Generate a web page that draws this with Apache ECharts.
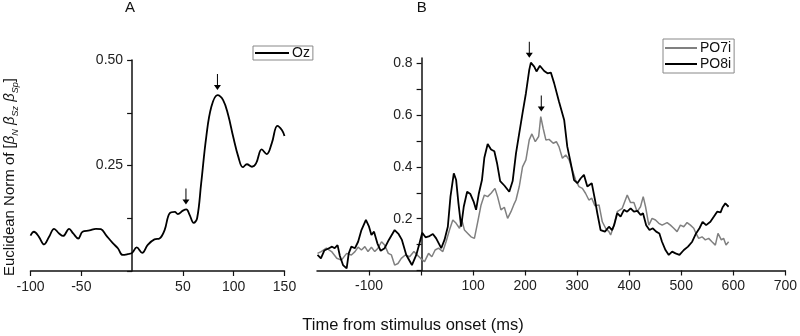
<!DOCTYPE html>
<html>
<head>
<meta charset="utf-8">
<script src="https://cdn.jsdelivr.net/npm/echarts@6/dist/echarts.min.js"></script>
<style>
  html, body { margin: 0; padding: 0; background: #fff; }
  #chart { width: 800px; height: 336px; }
</style>
</head>
<body>
<div id="chart"></div>
<script>
// panel A: Oz, [time ms, norm]
const ozData = [
  [-100, 0.084], [-96.6, 0.093], [-91.7, 0.081], [-86.7, 0.063], [-81.7, 0.081],
  [-76.8, 0.100], [-71.9, 0.089], [-67.9, 0.083], [-62, 0.100], [-58, 0.089],
  [-53, 0.077], [-48.8, 0.093], [-42, 0.096], [-35.6, 0.100], [-30.7, 0.099],
  [-25.7, 0.085], [-19, 0.066], [-14, 0.054], [-9.3, 0.038], [-4.3, 0.040],
  [0, 0.043], [4.5, 0.056], [10, 0.043], [15.4, 0.062], [22, 0.075],
  [27, 0.077], [32, 0.097], [37, 0.137], [42, 0.140], [45, 0.135],
  [50, 0.143], [53.4, 0.146], [56.6, 0.133], [60.6, 0.114], [64, 0.125],
  [68, 0.208], [73, 0.318], [78, 0.389], [84, 0.417], [89.6, 0.405],
  [94.5, 0.370], [99.5, 0.318], [104.5, 0.271], [109, 0.246], [113, 0.253],
  [118, 0.247], [122, 0.255], [127.6, 0.288], [132.5, 0.277], [137.5, 0.303],
  [143, 0.344], [147.4, 0.334], [150, 0.320]
];

// panel B: PO7i (grey)
const po7iData = [
  [-199, 0.066], [-192, 0.073], [-182, 0.086], [-172, 0.073], [-162, 0.047],
  [-153, 0.040], [-143, 0.066], [-134, 0.060], [-127, 0.073], [-121, 0.090],
  [-114.6, 0.079], [-108, 0.092], [-102, 0.073], [-95.4, 0.090], [-89, 0.073],
  [-82.8, 0.086], [-76, 0.111], [-70, 0.098], [-63, 0.066], [-57, 0.060],
  [-50.8, 0.021], [-44.4, 0.027], [-38, 0.047], [-30.3, 0.060], [-22, 0.053],
  [-13.7, 0.073], [-7.4, 0.060], [-1, 0.047], [6.7, 0.034], [14.4, 0.066],
  [20.7, 0.053], [27, 0.079], [33.5, 0.086], [41.8, 0.073], [48, 0.111],
  [54.6, 0.156], [61, 0.195], [67.4, 0.182], [73.8, 0.163], [78.3, 0.195],
  [83.4, 0.156], [89.8, 0.143], [96, 0.130], [102.5, 0.124], [108.9, 0.188],
  [115.3, 0.253], [121.6, 0.291], [128, 0.285], [134.5, 0.298], [142, 0.317],
  [147, 0.285], [153.5, 0.234], [160, 0.244], [166.3, 0.201], [172.8, 0.227],
  [178, 0.253], [182.4, 0.272], [188.7, 0.324], [195, 0.400], [201.5, 0.427],
  [207.9, 0.504], [213, 0.527], [219.5, 0.497], [226, 0.517], [230, 0.594],
  [234.6, 0.549], [239.8, 0.504], [246, 0.506], [254, 0.491], [260, 0.497],
  [265, 0.478], [271.6, 0.433], [278, 0.446], [284.4, 0.427], [290.8, 0.388],
  [297, 0.349], [303.5, 0.324], [310, 0.317], [316, 0.298], [322.5, 0.272],
  [328, 0.279], [334, 0.250], [342, 0.253], [348.3, 0.188], [354.7, 0.163],
  [361, 0.150], [364.3, 0.137], [370.7, 0.175], [377, 0.227], [380.3, 0.221],
  [386.6, 0.240], [396.2, 0.291], [402.6, 0.262], [409, 0.262], [415.3, 0.227],
  [421.7, 0.246], [426.9, 0.285], [431.4, 0.246], [437.7, 0.175], [444, 0.201],
  [450.5, 0.195], [456.9, 0.182], [463.3, 0.175], [472.8, 0.185], [479.2, 0.175],
  [485.6, 0.163], [492, 0.150], [498.4, 0.175], [504.8, 0.169], [511.2, 0.185],
  [517.6, 0.175], [524, 0.163], [528.4, 0.143], [533.5, 0.124], [539.9, 0.130],
  [546.3, 0.118], [552.7, 0.124], [559, 0.111], [565.5, 0.098], [570.6, 0.143],
  [577, 0.118], [581.4, 0.124], [586, 0.098], [591, 0.111]
];

// panel B: PO8i (black)
const po8iData = [
  [-199, 0.060], [-192.5, 0.047], [-186, 0.077], [-177, 0.086], [-171, 0.092],
  [-166, 0.086], [-160.5, 0.098], [-156, 0.056], [-150, 0.021], [-143, 0.008],
  [-139, 0.066], [-134, 0.092], [-127, 0.086], [-121, 0.111], [-114.6, 0.156],
  [-106, 0.195], [-100, 0.169], [-95.4, 0.137], [-90.4, 0.150], [-84, 0.105],
  [-77.6, 0.076], [-70, 0.086], [-62, 0.118], [-50.8, 0.156], [-43, 0.140],
  [-36.8, 0.118], [-28.4, 0.060], [-17.6, 0.021], [-9.2, 0.060], [-3, 0.105],
  [2.2, 0.146], [8.6, 0.128], [16.3, 0.133], [22.7, 0.141], [29, 0.124],
  [38.7, 0.086], [45, 0.118], [51.4, 0.169], [56.5, 0.285], [62.9, 0.375],
  [67.4, 0.349], [71.8, 0.260], [77, 0.169], [82, 0.246], [88.5, 0.304],
  [94.8, 0.295], [101, 0.266], [105.7, 0.234], [110.8, 0.295], [117, 0.349],
  [121.6, 0.435], [128, 0.488], [134.5, 0.467], [140.8, 0.460], [146, 0.414],
  [152, 0.345], [160, 0.328], [169.5, 0.304], [176, 0.345], [182.4, 0.452],
  [188.7, 0.530], [195, 0.607], [201.5, 0.684], [207.9, 0.774], [211, 0.802],
  [217.4, 0.787], [221.8, 0.768], [228.3, 0.790], [236.6, 0.770], [243, 0.761],
  [249.4, 0.764], [255.7, 0.723], [265, 0.652], [275, 0.581], [281, 0.478],
  [287.7, 0.414], [294, 0.349], [300.4, 0.337], [306.9, 0.356], [313, 0.369],
  [319.5, 0.324], [328, 0.337], [334.3, 0.272], [338.7, 0.221], [345, 0.156],
  [353.4, 0.150], [361, 0.169], [367, 0.156], [371, 0.175], [377, 0.221],
  [383.4, 0.208], [390, 0.234], [396, 0.227], [402.7, 0.240], [409, 0.227],
  [415.6, 0.230], [422, 0.214], [426.5, 0.221], [432.6, 0.175], [439, 0.156],
  [445.4, 0.163], [451.8, 0.150], [458, 0.143], [463, 0.111], [469.7, 0.079],
  [476, 0.060], [482.5, 0.073], [489, 0.066], [496.6, 0.060], [505, 0.079],
  [513, 0.092], [521, 0.111], [528.4, 0.143], [535, 0.163], [541, 0.188],
  [547.8, 0.175], [556, 0.188], [562.8, 0.208], [569, 0.227], [575.6, 0.224],
  [579.5, 0.244], [584.7, 0.259], [591, 0.246]
];

// peak markers (arrows)
const ozArrows = [[53, 0.146], [84, 0.417]];
const po8iArrows = [[208, 0.802]];
const po7iArrows = [[231, 0.594]];

const xTicksA = [-100, -50, 50, 100, 150];
const xTicksB = [-100, 0, 100, 200, 300, 400, 500, 600, 700];

const FONT = 'Liberation Sans, Arial, sans-serif';
const ARROW = 'path://M3,0H4V11H7L3.5,16L0,11H3Z';

// grid geometry: the y axes stand at t = 0
const gridA = { left: 30.5, top: 60, width: 254, height: 211 };
const gridB = { left: 317, top: 58, width: 470.7, height: 212.5 };
const rangeA = [-100, 150];
const rangeB = [-200, 700];
const zeroOffset = (g, r) => -g.width * (0 - r[0]) / (r[1] - r[0]);

const arrowMark = pts => ({
  symbol: ARROW,
  symbolSize: [7, 16],
  symbolOffset: [0, -13],
  itemStyle: { color: '#000' },
  label: { show: false },
  silent: true,
  data: pts.map(p => ({ coord: p }))
});

const axisCommon = {
  axisLine: { onZero: false, lineStyle: { color: '#111', width: 1.5 } },
  axisTick: { inside: false, length: 5, lineStyle: { color: '#111', width: 1.2 } },
  splitLine: { show: false },
  axisLabel: { color: '#222', fontSize: 14, fontFamily: FONT }
};

const chart = echarts.init(document.getElementById('chart'));
chart.setOption({
  animation: false,
  backgroundColor: '#fff',
  grid: [gridA, gridB],
  xAxis: [
    {
      type: 'value', gridIndex: 0, min: rangeA[0], max: rangeA[1], interval: 50,
      ...axisCommon,
      axisTick: { ...axisCommon.axisTick, customValues: xTicksA },
      axisLabel: { ...axisCommon.axisLabel, margin: 9, formatter: v => (v === 0 ? '' : String(v)) }
    },
    {
      type: 'value', gridIndex: 1, min: rangeB[0], max: rangeB[1], interval: 100,
      ...axisCommon,
      axisTick: { ...axisCommon.axisTick, customValues: xTicksB },
      axisLabel: { ...axisCommon.axisLabel, margin: 9, formatter: v => (v === 0 || v === -200 ? '' : String(v)) }
    }
  ],
  yAxis: [
    {
      type: 'value', gridIndex: 0, min: 0, max: 0.5, interval: 0.125,
      position: 'left', offset: zeroOffset(gridA, rangeA),
      ...axisCommon,
      axisLabel: {
        ...axisCommon.axisLabel, margin: 9,
        formatter: v => (Math.abs(v - 0.25) < 1e-6 ? '0.25' : Math.abs(v - 0.5) < 1e-6 ? '0.50' : '')
      }
    },
    {
      type: 'value', gridIndex: 1, min: 0, max: 0.82, interval: 0.1,
      position: 'left', offset: zeroOffset(gridB, rangeB),
      ...axisCommon,
      axisLabel: {
        ...axisCommon.axisLabel, margin: 9,
        formatter: v => {
          const k = Math.round(v * 10);
          return k > 0 && k % 2 === 0 ? (k / 10).toFixed(1) : '';
        }
      }
    }
  ],
  legend: [
    {
      data: ['Oz'], left: 253, top: 46, orient: 'vertical', icon: 'rect',
      borderColor: '#888', borderWidth: 1, padding: [0, 3, 0, 2],
      itemWidth: 34, itemHeight: 2, itemGap: 2,
      textStyle: { fontSize: 14, fontFamily: FONT, color: '#111', padding: [0, 0, 0, -2] }
    },
    {
      data: ['PO7i', 'PO8i'], left: 663, top: 39, orient: 'vertical', icon: 'rect',
      borderColor: '#888', borderWidth: 1, padding: [2, 3, 2, 2],
      itemWidth: 32, itemHeight: 2, itemGap: 2,
      textStyle: { fontSize: 14, fontFamily: FONT, color: '#111', padding: [0, 0, 0, -2] }
    }
  ],
  graphic: [
    { type: 'text', x: 130, y: 8, style: { text: 'A', fontSize: 15, fontFamily: FONT, fill: '#111', align: 'center', verticalAlign: 'middle' } },
    { type: 'text', x: 421.7, y: 8, style: { text: 'B', fontSize: 15, fontFamily: FONT, fill: '#111', align: 'center', verticalAlign: 'middle' } },
    {
      type: 'text', x: 413, y: 325,
      style: { text: 'Time from stimulus onset (ms)', fontSize: 16.5, fontFamily: FONT, fill: '#111', align: 'center', verticalAlign: 'middle' }
    },
    {
      type: 'text', x: 10, y: 177, rotation: Math.PI / 2,
      style: {
        text: '{n|Euclidean Norm of [}{b|β}{s|N}{b| β}{s|Sz}{b| β}{s|Sp}{n|]}',
        align: 'center', verticalAlign: 'middle',
        fill: '#111', fontFamily: FONT,
        rich: {
          n: { fontSize: 15, fontFamily: FONT, fill: '#111', lineHeight: 20, verticalAlign: 'middle' },
          b: { fontSize: 15, fontFamily: FONT, fill: '#111', fontStyle: 'italic', lineHeight: 20, verticalAlign: 'middle' },
          s: { fontSize: 9, fontFamily: FONT, fill: '#111', fontStyle: 'italic', lineHeight: 12, verticalAlign: 'bottom' }
        }
      }
    }
  ],
  series: [
    {
      name: 'Oz', type: 'line', xAxisIndex: 0, yAxisIndex: 0,
      data: ozData, smooth: 0.4, symbol: 'none',
      lineStyle: { color: '#000', width: 1.8 }, itemStyle: { color: '#000' },
      markPoint: arrowMark(ozArrows)
    },
    {
      name: 'PO7i', type: 'line', xAxisIndex: 1, yAxisIndex: 1,
      data: po7iData, symbol: 'none',
      lineStyle: { color: '#808080', width: 1.5 }, itemStyle: { color: '#808080' },
      markPoint: arrowMark(po7iArrows)
    },
    {
      name: 'PO8i', type: 'line', xAxisIndex: 1, yAxisIndex: 1,
      data: po8iData, symbol: 'none',
      lineStyle: { color: '#000', width: 1.8 }, itemStyle: { color: '#000' },
      markPoint: arrowMark(po8iArrows)
    }
  ]
});
window.addEventListener('resize', function () {
  chart.resize();
});
</script>
</body>
</html>
